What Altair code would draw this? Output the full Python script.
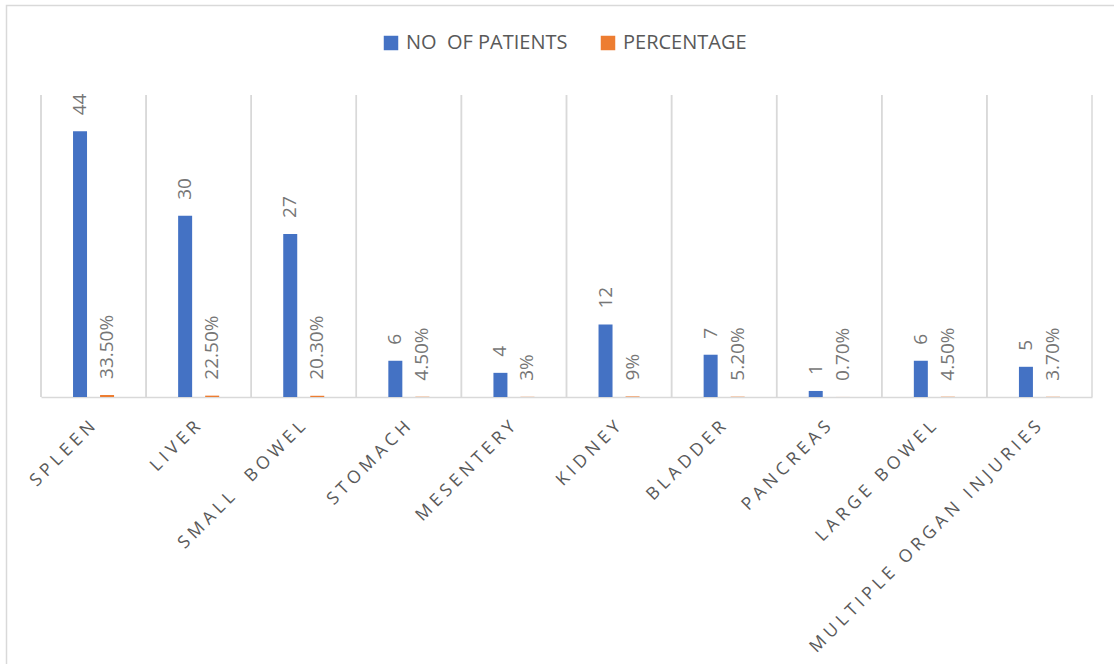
import altair as alt
import pandas as pd

# Abdominal organ injuries: patient counts and share of cases
organs = ["SPLEEN", "LIVER", "SMALL  BOWEL", "STOMACH", "MESENTERY",
          "KIDNEY", "BLADDER", "PANCREAS", "LARGE BOWEL",
          "MULTIPLE ORGAN INJURIES"]
patients = [44, 30, 27, 6, 4, 12, 7, 1, 6, 5]
percentage = [0.335, 0.225, 0.203, 0.045, 0.03, 0.09, 0.052, 0.007, 0.045, 0.037]
percentage_labels = ["33.50%", "22.50%", "20.30%", "4.50%", "3%", "9%",
                     "5.20%", "0.70%", "4.50%", "3.70%"]

series = ["NO \u00a0OF PATIENTS", "PERCENTAGE"]
colors = ["#4472C4", "#ED7D31"]

rows = []
for i, organ in enumerate(organs):
    rows.append({"organ": organ, "series": series[0], "value": patients[i],
                 "label": str(patients[i])})
    rows.append({"organ": organ, "series": series[1], "value": percentage[i],
                 "label": percentage_labels[i]})
df = pd.DataFrame(rows)

W, H = 1051, 302
PAD = {"left": 41, "top": 95, "right": 22, "bottom": 267}
FONT = "Open Sans"
GRID = "#d9d9d9"

x_enc = alt.X(
    "organ:N", sort=organs, title=None,
    scale=alt.Scale(paddingInner=0, paddingOuter=0),
    axis=alt.Axis(
        labelAngle=-45, labelAlign="right", labelBaseline="middle",
        labelFont=FONT, labelFontSize=17.5, labelColor="#595959",
        labelPadding=27, labelOffset=-1, ticks=False,
        domainColor=GRID, domainWidth=1.5,
        # widen the tracking between letters
        labelExpr="replace(replace(datum.label, regexp('  ', 'g'), ' \u00a0'), regexp('(.)(?=.)', 'g'), '$1\u2005')",
        labelLimit=0,
    ),
)
y_enc = alt.Y("value:Q", scale=alt.Scale(domain=[0, 50]), axis=None)
xoff = alt.XOffset("series:N", sort=series,
                   scale=alt.Scale(paddingInner=0, paddingOuter=0.944))

base = alt.Chart(df)

# vertical separators at category boundaries
grid = base.mark_rule(color=GRID, strokeWidth=1.5).encode(
    x=alt.X("organ:N", sort=organs, bandPosition=0),
    y=alt.value(0), y2=alt.value(H),
)
right_edge = alt.Chart(pd.DataFrame({"k": [0]})).mark_rule(
    color=GRID, strokeWidth=1.5
).encode(x=alt.value(W), y=alt.value(0), y2=alt.value(H))

bars = base.mark_bar(width=14).encode(
    x=x_enc,
    xOffset=xoff,
    y=y_enc,
    color=alt.Color(
        "series:N", sort=series,
        scale=alt.Scale(domain=series, range=colors),
        legend=alt.Legend(
            title=None, orient="none", direction="horizontal",
            legendX=340, legendY=-62, symbolType="square", symbolSize=210,
            symbolStrokeWidth=0, labelFont=FONT, labelFontSize=20,
            labelColor="#595959", labelOffset=5, columnPadding=30,
            labelLimit=0,
        ),
    ),
)

labels = base.mark_text(
    angle=270, align="left", baseline="middle", dx=16,
    font=FONT, fontSize=19, color="#767676",
).encode(
    x=alt.X("organ:N", sort=organs),
    xOffset=xoff,
    y=y_enc,
    text="label:N",
)

frame = alt.Chart(pd.DataFrame({"k": [0]})).mark_rect(
    fill=None, stroke=GRID, strokeWidth=1.5
).encode(
    x=alt.value(-34.5), y=alt.value(-89.5),
    x2=alt.value(W + PAD["right"] + 10), y2=alt.value(H + PAD["bottom"] + 10),
)

chart = alt.layer(frame, grid, right_edge, bars, labels).properties(
    width=W, height=H, padding=PAD,
    autosize=alt.AutoSizeParams(type="none"),
    background="white",
).configure_view(stroke=None)

chart.save("out.html", embed_options={"renderer": "svg", "actions": False})
